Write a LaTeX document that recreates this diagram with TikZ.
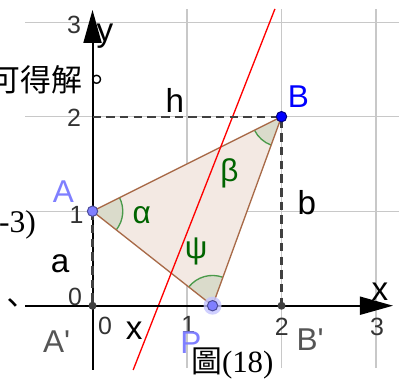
\documentclass[tikz,border=0pt]{standalone}
\usepackage{fontspec}
\setmainfont{Liberation Sans}
\newfontfamily\cjkfont{Noto Sans CJK TC}
\newfontfamily\serifont{Liberation Serif}
\usetikzlibrary{arrows.meta,angles}
\definecolor{ggrid}{HTML}{C8C8C8}
\definecolor{ggdash}{HTML}{404040}
\definecolor{ggbrown}{HTML}{A86A48}
\definecolor{ggtri}{HTML}{F3E9E3}
\definecolor{ggsect}{HTML}{DADBCB}
\definecolor{ggarc}{HTML}{4A9A4A}
\definecolor{gggreen}{HTML}{006400}
\definecolor{ggblue}{HTML}{0000FF}
\definecolor{ggpale}{HTML}{7F7FFF}
\definecolor{gghalo}{HTML}{C4C4FF}
\definecolor{ggpoint}{HTML}{404040}
\definecolor{ggtick}{HTML}{333333}
\definecolor{ggprime}{HTML}{555555}

\begin{document}
\begin{tikzpicture}[
  every node/.style={inner sep=0pt},
  gridline/.style={draw=ggrid,line width=0.35pt},
  axis/.style={-{Triangle[length=3.5mm,width=1.9mm]},line width=0.6pt},
  guide/.style={draw=ggdash,line width=0.7pt,dash pattern=on 0.9mm off 0.55mm},
  side/.style={draw=ggbrown,line width=0.4pt},
  sector/.style={draw=ggarc,fill=ggsect,line width=0.4pt,angle radius=3.2mm},
  mover/.style={circle,fill=ggpale,draw=ggpale!60!black,line width=0.3pt,minimum size=1.1mm},
  fixed/.style={circle,fill=ggblue,draw=ggblue!50!black,line width=0.3pt,minimum size=1.1mm},
  foot/.style={circle,fill=ggpoint,minimum size=0.85mm},
  lbl/.style={font=\fontsize{10}{11}\selectfont},
  pt/.style={font=\fontsize{9.5}{11}\selectfont},
  ang/.style={font=\fontsize{9.5}{10}\selectfont,color=gggreen},
  tick/.style={font=\fontsize{7.5}{8}\selectfont,color=ggtick},
  doc/.style={font=\serifont\fontsize{9.3}{11}\selectfont}
]
\useasboundingbox (-0.979,-0.814) rectangle (3.243,3.235);
\foreach \i in {1,2,3} {
  \draw[gridline] (\i,-0.66) -- (\i,3.14);
  \draw[gridline] (-0.714,\i) -- (3.3,\i);
}
\coordinate (O) at (0,0);
\coordinate (A) at (0,1);
\coordinate (B) at (2,2);
\coordinate (P) at (1.27,0);
\coordinate (Bp) at (2,0);
\coordinate (H) at (0,2);
\coordinate (xl) at (-0.714,0);
\coordinate (xr) at (3.18,0);
\coordinate (yb) at (0,-0.68);
\coordinate (yt) at (0,3.13);
\coordinate (r1) at (0.43,-0.68);
\coordinate (r2) at (1.93,3.14);
\fill[ggtri] (A) -- (B) -- (P) -- cycle;
\pic[sector] {angle=P--A--B};
\pic[sector] {angle=A--B--P};
\pic[sector] {angle=B--P--A};
\draw[side] (A) -- (B) -- (P) -- cycle;
\draw[red,line width=0.4pt] (r1) -- (r2);
\draw[axis] (xl) -- (xr);
\draw[axis] (yb) -- (yt);
\draw[guide] (H) -- (B) -- (Bp);
\draw[guide] (A) -- (O);
\node[circle,fill=gghalo,opacity=0.8,minimum size=1.9mm] (Phalo) at (P) {};
\node[mover] (Pdot) at (P) {};
\node[mover] (Adot) at (A) {};
\node[fixed] (Bdot) at (B) {};
\node[foot] (Odot) at (O) {};
\node[foot] (Bpdot) at (Bp) {};
\node[tick] (ty3) at (-0.196,2.97) {3};
\node[tick] (ty2) at (-0.196,1.99) {2};
\node[tick] (ty1) at (-0.17,0.962) {1};
\node[tick] (ty0) at (-0.185,0.098) {0};
\node[tick] (tx0) at (0.132,-0.219) {0};
\node[tick] (tx1) at (1.014,-0.2) {1};
\node[tick] (tx2) at (2.002,-0.222) {2};
\node[tick] (tx3) at (3.01,-0.222) {3};
\node[lbl] (ylab) at (0.132,2.85) {y};
\node[lbl] (xlab) at (3.042,0.151) {x};
\node[lbl] (hlab) at (0.87,2.17) {h};
\node[lbl] (blab) at (2.267,1.092) {b};
\node[lbl] (alab) at (-0.344,0.444) {a};
\node[lbl] (xseg) at (0.442,-0.264) {x};
\node[pt,color=ggpale] (Alab) at (-0.307,1.21) {A};
\node[pt,color=ggblue] (Blab) at (2.178,2.213) {B};
\node[pt,color=ggpale] (Plab) at (1.042,-0.39) {P};
\node[pt,color=ggprime] (Oplab) at (-0.379,-0.377) {A\textquotesingle};
\node[pt,color=ggprime] (Bplab) at (2.302,-0.36) {B\textquotesingle};
\node[ang] (alpha) at (0.52,0.962) {α};
\node[ang] (beta) at (1.448,1.403) {β};
\node[ang] (psi) at (1.095,0.574) {ψ};
\node[doc,font=\cjkfont\fontsize{9.3}{11}\selectfont] (solve) at (-0.439,2.389) {可得解。};
\node[doc,font=\serifont\fontsize{9.5}{11}\selectfont] (paren) at (-0.794,0.856) {-3)};
\node[doc,font=\cjkfont\fontsize{9.3}{11}\selectfont] (comma) at (-0.84,-0.01) {、};
\node[doc] (caption) at (1.479,-0.608) {{\cjkfont 圖}(18)};
\end{tikzpicture}
\end{document}
